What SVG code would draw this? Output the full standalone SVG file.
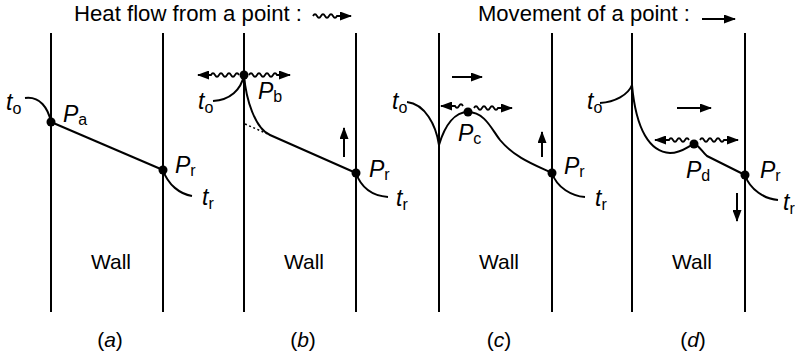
<svg xmlns="http://www.w3.org/2000/svg" width="795" height="358" viewBox="0 0 795 358">
<style>
  .wall{stroke:#000;stroke-width:2;fill:none}
  .crv{stroke:#000;stroke-width:2;fill:none;stroke-linejoin:round}
  .wave{stroke:#000;stroke-width:1.8;fill:none}
  .dash{stroke:#000;stroke-width:1.5;fill:none;stroke-dasharray:2,2.5}
  .arr{stroke:#000;stroke-width:2;fill:none}
  .dot{fill:#000}
  text{font-family:"Liberation Sans",Arial,Helvetica,sans-serif;fill:#000}
  .it{font-size:23px;font-style:italic}
  .sub{font-size:16px;font-style:normal}
  .cap{font-size:21px;text-anchor:middle}
  .title{font-size:22px}
</style>
<defs>
  <marker id="ah" viewBox="0 0 12 9" refX="11" refY="4.5" markerWidth="12" markerHeight="9" markerUnits="userSpaceOnUse" orient="auto">
    <path d="M0,0 L12,4.5 L0,9 z" fill="#000"/>
  </marker>
</defs>

<g id="legend">
  <text class="title" x="74" y="21" textLength="228" lengthAdjust="spacingAndGlyphs">Heat flow from a point :</text>
  <path class="wave" d="M313,16 q2,-3.5 4,0 t4,0 t4,0 t4,0 t4,0 t4,0 h14" marker-end="url(#ah)"/>
  <text class="title" x="478" y="21" textLength="212" lengthAdjust="spacingAndGlyphs">Movement of a point :</text>
  <path class="arr" d="M702,19 H735" marker-end="url(#ah)"/>
</g>

<g id="walls">
  <path class="wall" d="M51,33 V312 M163,33 V312 M244,33 V312 M356,33 V312 M439,33 V312 M552,33 V312 M632,33 V312 M745,33 V312"/>
</g>

<g id="panel-a">
  <path class="crv" d="M25,98 C40,96 48,108 51,122"/>
  <path class="crv" d="M51,122 L163,170"/>
  <path class="crv" d="M163,170 C168,185 180,194 192,196"/>
  <circle class="dot" cx="51" cy="122" r="4.5"/>
  <circle class="dot" cx="163" cy="170" r="4.5"/>
  <text class="it" x="6" y="110">t<tspan class="sub" dy="4">o</tspan></text>
  <text class="it" x="63" y="122">P<tspan class="sub" dy="3">a</tspan></text>
  <text class="it" x="175" y="173">P<tspan class="sub" dy="3">r</tspan></text>
  <text class="it" x="202" y="205">t<tspan class="sub" dy="4">r</tspan></text>
  <text class="cap" x="111" y="269">Wall</text>
  <text class="cap" x="110" y="347">(<tspan font-style="italic">a</tspan>)</text>
</g>

<g id="panel-b">
  <path class="crv" d="M213,101 C230,100 241,90 244,75"/>
  <path class="crv" d="M244,75 C246,100 255,128 270,135 L356,173"/>
  <path class="dash" d="M245,124 L270,135"/>
  <path class="crv" d="M356,173 C362,190 375,196 388,197"/>
  <path class="wave" d="M239,75 q-2,-3.5 -4,0 t-4,0 t-4,0 t-4,0 t-4,0 t-4,0 t-4,0 h-13" marker-end="url(#ah)"/>
  <path class="wave" d="M249,75 q2,-3.5 4,0 t4,0 t4,0 t4,0 t4,0 t4,0 t4,0 h13" marker-end="url(#ah)"/>
  <circle class="dot" cx="244" cy="75" r="4.5"/>
  <circle class="dot" cx="356" cy="173" r="4.5"/>
  <path class="arr" d="M344,157 V128" marker-end="url(#ah)"/>
  <text class="it" x="198" y="109">t<tspan class="sub" dy="4">o</tspan></text>
  <text class="it" x="258" y="99">P<tspan class="sub" dy="3">b</tspan></text>
  <text class="it" x="369" y="177">P<tspan class="sub" dy="3">r</tspan></text>
  <text class="it" x="396" y="206">t<tspan class="sub" dy="4">r</tspan></text>
  <text class="cap" x="304" y="269">Wall</text>
  <text class="cap" x="303" y="347">(<tspan font-style="italic">b</tspan>)</text>
</g>

<g id="panel-c">
  <path class="crv" d="M407,102 C425,104 436,125 439,145"/>
  <path class="crv" d="M439,145 C445,125 455,112 468,112 C485,112 492,130 500,140 C515,158 535,165 552,173"/>
  <path class="crv" d="M552,173 C557,188 572,196 585,197"/>
  <path class="wave" d="M463,106 q-2,-3.5 -4,0 t-4,0 h-14" marker-end="url(#ah)"/>
  <path class="wave" d="M474,108 q2,-3.5 4,0 t4,0 t4,0 t4,0 t4,0 t4,0 h14" marker-end="url(#ah)"/>
  <circle class="dot" cx="468" cy="112" r="4.5"/>
  <circle class="dot" cx="552" cy="173" r="4.5"/>
  <path class="arr" d="M452,77 H482" marker-end="url(#ah)"/>
  <path class="arr" d="M542,157 V132" marker-end="url(#ah)"/>
  <text class="it" x="392" y="109">t<tspan class="sub" dy="4">o</tspan></text>
  <text class="it" x="458" y="141">P<tspan class="sub" dy="3">c</tspan></text>
  <text class="it" x="564" y="174">P<tspan class="sub" dy="3">r</tspan></text>
  <text class="it" x="595" y="206">t<tspan class="sub" dy="4">r</tspan></text>
  <text class="cap" x="499" y="269">Wall</text>
  <text class="cap" x="499" y="347">(<tspan font-style="italic">c</tspan>)</text>
</g>

<g id="panel-d">
  <path class="crv" d="M600,103 C615,102 628,95 632,85"/>
  <path class="crv" d="M632,85 C636,130 650,152 670,153 C682,153 688,146 694,144 C699,145 702,152 707,156 L745,175"/>
  <path class="crv" d="M745,175 C750,190 765,199 778,200"/>
  <path class="wave" d="M689,140 q-2,-3.5 -4,0 t-4,0 t-4,0 t-4,0 t-4,0 h-14" marker-end="url(#ah)"/>
  <path class="wave" d="M700,140 q2,-3.5 4,0 t4,0 t4,0 t4,0 t4,0 t4,0 h14" marker-end="url(#ah)"/>
  <circle class="dot" cx="694" cy="144" r="4.5"/>
  <circle class="dot" cx="745" cy="175" r="4.5"/>
  <path class="arr" d="M677,108 H711" marker-end="url(#ah)"/>
  <path class="arr" d="M737,193 V221" marker-end="url(#ah)"/>
  <text class="it" x="587" y="109">t<tspan class="sub" dy="4">o</tspan></text>
  <text class="it" x="686" y="178">P<tspan class="sub" dy="3">d</tspan></text>
  <text class="it" x="760" y="178">P<tspan class="sub" dy="3">r</tspan></text>
  <text class="it" x="783" y="210">t<tspan class="sub" dy="4">r</tspan></text>
  <text class="cap" x="692" y="269">Wall</text>
  <text class="cap" x="693" y="347">(<tspan font-style="italic">d</tspan>)</text>
</g>
</svg>
